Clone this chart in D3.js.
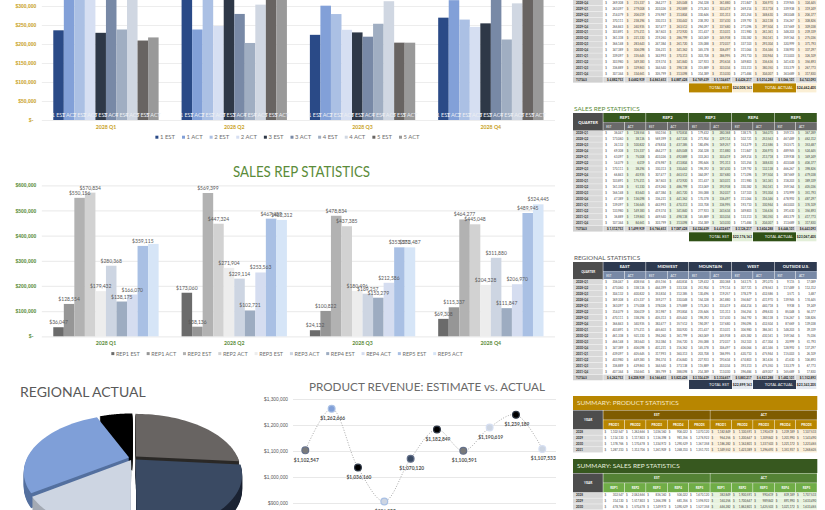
<!DOCTYPE html>
<html>
<head>
<meta charset="utf-8">
<title>Sales dashboard</title>
<script src="https://cdn.jsdelivr.net/npm/d3@7/dist/d3.min.js"></script>
<style>
  html, body { margin: 0; background: #fff; overflow: hidden; }
  svg { display: block; font-family: Lato, "Open Sans", sans-serif; }
</style>
</head>
<body>
<svg id="board" width="825" height="510"></svg>
<script>
// ---- Quarter labels and table rows ----
const quarters = ["2028 Q1", "2028 Q2", "2028 Q3", "2028 Q4"];
const years = ["2028", "2029", "2030", "2031"];
const rowLabels = years.flatMap(y => ["Q1", "Q2", "Q3", "Q4"].map(q => `${y}-${q}`));

const productSeries = ["1 EST", "1 ACT", "2 EST", "2 ACT", "3 EST", "3 ACT", "4 EST", "4 ACT", "5 EST", "5 ACT"];
const productColors = ["#2A4A87", "#82A0D8", "#ABC0E4", "#D6DFF2", "#2E3847", "#7889A6", "#A0AEC2", "#D0D7E2", "#686462", "#999999"];
const productRows = [
  [236047, 328554, 350156, 370834, 229432, 330368, 238175, 316070, 209115, 217289],
  [373060, 238136, 369399, 247324, 321904, 279114, 202721, 303563, 337489, 362312],
  [224132, 300822, 278834, 237385, 230496, 219257, 253279, 312586, 203571, 203487],
  [269308, 315337, 264277, 245048, 254328, 361880, 211847, 306970, 319945, 324445],
  [263097, 279008, 203026, 292889, 273263, 303419, 269214, 313718, 339938, 319249],
  [214079, 206019, 276987, 313804, 330646, 331313, 201254, 348630, 283048, 206377],
  [370111, 238294, 330313, 330442, 238392, 337430, 239792, 242138, 316267, 308826],
  [266843, 240935, 307477, 263512, 294097, 337680, 271096, 297504, 337669, 309038],
  [303891, 375211, 367603, 272920, 311437, 313031, 311980, 261361, 348203, 239339],
  [361338, 221330, 219260, 286799, 343069, 345938, 330382, 350161, 359164, 275036],
  [366148, 283643, 247384, 261720, 335088, 372037, 337103, 293304, 320999, 371793],
  [347389, 306098, 336231, 341362, 345378, 306497, 311064, 316346, 338992, 337297],
  [339097, 335645, 342993, 370313, 303708, 386995, 293710, 330944, 313003, 326109],
  [303980, 349383, 319374, 341840, 327923, 293634, 349803, 336636, 341630, 356893],
  [336889, 329863, 344540, 398138, 315889, 303034, 333313, 380350, 333379, 267773],
  [307344, 334661, 305799, 313098, 314389, 313030, 271484, 304007, 363689, 317830]
];

const repSeries = ["REP1 EST", "REP1 ACT", "REP2 EST", "REP2 ACT", "REP3 EST", "REP3 ACT", "REP4 EST", "REP4 ACT", "REP5 EST", "REP5 ACT"];
const repColors = ["#6B6B6B", "#969696", "#B2B2B2", "#D2D2D2", "#EDEDED", "#CDD5E2", "#9DACC1", "#D5DDF0", "#A9C0E4", "#D6E5F7"];
const repRows = [
  [36047, 128554, 550156, 570834, 179432, 280368, 138175, 166070, 359115, 367289],
  [173060, 38136, 569399, 447324, 271904, 229114, 102721, 253563, 467489, 462312],
  [24132, 100822, 478834, 437385, 180496, 169257, 153279, 212586, 353571, 353487],
  [69308, 115337, 464277, 445048, 204328, 311880, 111847, 206970, 489945, 524445],
  [63097, 75008, 403026, 492889, 333263, 303419, 269214, 213718, 339938, 349249],
  [14079, 6019, 476987, 413804, 390646, 191313, 101254, 348630, 403048, 406377],
  [170111, 38294, 330313, 330442, 198392, 187430, 139792, 132138, 466267, 398826],
  [66843, 40935, 307477, 463512, 344097, 307680, 171096, 197504, 387669, 479038],
  [103891, 175211, 367603, 472920, 311437, 343031, 311980, 161361, 318203, 389339],
  [161338, 51330, 419260, 486799, 313069, 393938, 330382, 350161, 359164, 405036],
  [166148, 83643, 447384, 461720, 355088, 352037, 137103, 193304, 370999, 351793],
  [47389, 136098, 336231, 441362, 170378, 336497, 311064, 316346, 478992, 487297],
  [139097, 136645, 442993, 470313, 333708, 336995, 193710, 330944, 463003, 376109],
  [133980, 149383, 419374, 341840, 277923, 243634, 349803, 136636, 391630, 356893],
  [36889, 139863, 449540, 498138, 145889, 303034, 133313, 180350, 483379, 417773],
  [107344, 84661, 303799, 313098, 314389, 143030, 171484, 204007, 313689, 317830]
];

const regionNames = ["EAST", "MIDWEST", "MOUNTAIN", "WEST", "OUTSIDE U.S."];
const regionRows = [
  [336047, 408554, 455156, 440834, 129432, 200368, 163175, 291070, 9115, 17089],
  [473060, 338136, 444399, 333324, 251904, 179114, 307721, 478563, 117489, 112312],
  [304132, 400822, 353834, 312385, 130496, 119257, 378279, 432586, 3571, 3487],
  [369308, 415337, 359277, 330048, 154328, 261880, 356847, 431970, 139945, 174445],
  [363097, 375008, 378026, 375889, 173263, 333419, 404214, 440718, 9938, 19249],
  [314079, 306019, 351987, 393804, 235646, 131313, 356254, 498630, 85048, 56377],
  [470111, 338294, 405313, 405442, 198392, 137430, 364792, 380138, 116267, 108826],
  [366843, 340935, 382477, 357512, 194097, 137680, 396096, 432504, 87669, 139038],
  [403891, 375211, 445603, 300920, 211437, 313031, 306980, 386361, 148203, 39339],
  [461338, 501330, 394260, 361799, 263069, 245938, 405382, 430161, 159164, 75036],
  [466148, 383643, 352384, 356720, 255088, 272037, 352103, 417304, 20999, 51793],
  [347389, 406098, 401231, 316362, 145378, 306497, 406064, 441346, 128992, 137297],
  [439097, 405645, 317993, 360313, 203708, 186995, 420710, 475944, 115003, 26109],
  [403980, 449383, 394374, 416840, 227923, 193634, 474803, 361636, 41630, 106893],
  [336889, 429863, 344540, 373138, 115889, 203034, 393313, 475350, 133379, 67773],
  [407344, 334661, 385799, 388098, 214389, 113030, 396484, 449007, 165689, 17830]
];

// ---- Line chart: estimate then actual revenue for each product ----
const revenueLabels = ["PROD1 EST", "PROD2 EST", "PROD3 EST", "PROD4 EST", "PROD5 EST", "PROD1 ACT", "PROD2 ACT", "PROD3 ACT", "PROD4 ACT", "PROD5 ACT"];
const revenueValues = [1102547, 1262666, 1036160, 906022, 1070120, 1182849, 1100591, 1190619, 1239189, 1107533];
const revenueFills = ["#7A7A7A", "#82A0D8", "#000000", "#CDD5E2", "#3A4A63", "#000000", "#7A7A7A", "#CDD5E2", "#000000", "#CDD5E2"];
const revenueRings = ["#64708A", "#A9C0E4", "#2E3847", "#A9C0E4", "#64708A", "#2E3847", "#64708A", "#D6DFF2", "#2E3847", "#D6DFF2"];

// ---- Pie chart: share of actual revenue by region, clockwise from twelve o'clock ----
const pieRegions = ["Mountain", "West", "Midwest", "East", "Outside U.S."];
const pieShares = [26.4, 23.6, 15.3, 28.2, 6.5];
const pieTops = ["#686462", "#3A4A63", "#CDD5E2", "#7F9FD8", "#000000"];
const pieWalls = ["#2B2927", "#1B2333", "#A4AAB4", "#54709F", "#000000"];

const svg = d3.select("#board");
const money = d3.format(",");
const axisMoney = v => v === 0 ? "$-" : "$" + money(v);

// Clustered columns with a left axis, quarter labels and a centred legend.
function columnChart(cfg) {
  const g = svg.append("g");
  const x0 = d3.scaleBand().domain(quarters).range(cfg.xRange);
  const x1 = d3.scaleBand().domain(d3.range(10)).range([0, x0.bandwidth()]).paddingInner(0).paddingOuter(1.09);
  const y = d3.scaleLinear().domain(cfg.yDomain).range(cfg.yRange);

  const axis = g.append("g").attr("transform", `translate(${cfg.xRange[0]},0)`)
    .call(d3.axisLeft(y).tickValues(cfg.ticks).tickFormat(axisMoney)
      .tickSize(-(cfg.xRange[1] - cfg.xRange[0])).tickPadding(5.5));
  axis.select(".domain").remove();
  axis.selectAll(".tick line").attr("stroke", "#EDEDED").attr("stroke-width", 1.2);
  axis.selectAll(".tick text").attr("fill", cfg.accent).attr("font-size", 5).attr("font-weight", 700)
    .attr("dx", d => d === 0 ? -3 : 0);

  const groups = g.selectAll(".quarter").data(cfg.rows).join("g")
    .attr("transform", (d, i) => `translate(${x0(quarters[i])},0)`);
  groups.selectAll("rect").data(d => d).join("rect")
    .attr("x", (d, i) => x1(i)).attr("width", x1.bandwidth())
    .attr("y", d => y(d)).attr("height", d => y(0) - y(d))
    .attr("fill", (d, i) => cfg.colors[i]);

  if (cfg.insideNames) {
    groups.selectAll(".name").data(d => d).join("text").attr("class", "name")
      .attr("x", (d, i) => x1(i) + x1.bandwidth() / 2).attr("y", y(0) - 3.4)
      .attr("text-anchor", "middle").attr("font-size", 5.4).attr("fill", "#EDEFF3")
      .text((d, i) => cfg.series[i]);
  }
  if (cfg.valueLabels) {
    // Value labels sit just above each column; the Q1 REP5 ACT column carries none.
    groups.selectAll(".value").data((d, q) => d.map((v, i) => ({ v, i, q })).filter(p => !(p.q === 0 && p.i === 9))).join("text").attr("class", "value")
      .attr("x", p => x1(p.i) + x1.bandwidth() / 2).attr("y", p => y(p.v) - 3)
      .attr("text-anchor", "middle").attr("font-size", 5).attr("fill", "#595959")
      .text(p => "$" + money(p.v));
  }

  g.selectAll(".qlabel").data(quarters).join("text").attr("class", "qlabel")
    .attr("x", d => x0(d) + x0.bandwidth() / 2).attr("y", y(0) + 8.6)
    .attr("text-anchor", "middle").attr("font-size", 5.2).attr("font-weight", 700).attr("fill", cfg.accent)
    .text(d => d);

  // Legend entries are laid out from their measured text widths.
  const legend = g.append("g");
  const items = legend.selectAll("g").data(cfg.series).join("g");
  items.append("rect").attr("y", -1.6).attr("width", 3).attr("height", 3).attr("fill", (d, i) => cfg.colors[i]);
  items.append("text").attr("x", 4.6).attr("dy", "0.35em").attr("font-size", cfg.legendSize).attr("fill", "#6E6E6E").text(d => d);
  let cursor = 0;
  items.each(function () {
    d3.select(this).attr("transform", `translate(${cursor},0)`);
    cursor += this.querySelector("text").getComputedTextLength() + 4.6 + cfg.legendGap;
  });
  const span = cursor - cfg.legendGap;
  legend.attr("transform", `translate(${cfg.legendCenter - span / 2},${cfg.legendY})`);
}

columnChart({
  rows: productRows.slice(0, 4), series: productSeries, colors: productColors, accent: "#C9A227",
  xRange: [41.8, 555], yDomain: [0, 350000], yRange: [120, -13],
  ticks: [0, 50000, 100000, 150000, 200000, 250000, 300000],
  insideNames: true, legendY: 137.3, legendCenter: 287.5, legendSize: 5.9, legendGap: 7
});
columnChart({
  rows: repRows.slice(0, 4), series: repSeries, colors: repColors, accent: "#5B8C3A",
  xRange: [41.8, 555], yDomain: [0, 600000], yRange: [336.3, 185.3],
  ticks: [0, 100000, 200000, 300000, 400000, 500000, 600000],
  valueLabels: true, legendY: 353.7, legendCenter: 287, legendSize: 5.5, legendGap: 6.8
});

svg.append("text").attr("x", 301.5).attr("y", 176.5).attr("text-anchor", "middle")
  .attr("font-size", 15).attr("fill", "#5B8C3A")
  .attr("textLength", 137).attr("lengthAdjust", "spacingAndGlyphs").text("SALES REP STATISTICS");
svg.append("text").attr("x", 20).attr("y", 397)
  .attr("font-size", 14).attr("fill", "#595959").text("REGIONAL ACTUAL");
svg.append("text").attr("x", 427).attr("y", 390.5).attr("text-anchor", "middle")
  .attr("font-size", 11.7).attr("fill", "#6A6A6A").text("PRODUCT REVENUE: ESTIMATE vs. ACTUAL");

// ---- Perspective pie ----
(function pieChart() {
  const cx = 133, cy = 458, R = 102, tilt = 54, k = 0.25, depth = 15, explode = 0.04;
  const project = (u, v) => {
    const s = 1 / (1 - k * v);
    return [cx + R * u * s, cy + tilt * v * s];
  };
  const arcs = d3.pie().sort(null).value(d => d)(pieShares);
  const line = d3.line();
  const g = svg.append("g");
  const slices = arcs.map((a, i) => {
    const mid = (a.startAngle + a.endAngle) / 2;
    const ox = Math.sin(mid) * explode, oy = -Math.cos(mid) * explode;
    const steps = d3.range(0, 41).map(j => a.startAngle + (a.endAngle - a.startAngle) * j / 40);
    const pts = [project(ox, oy)].concat(steps.map(t => project(Math.sin(t) + ox, -Math.cos(t) + oy)));
    return { i, mid, pts, order: -Math.cos(mid) };
  }).sort((p, q) => p.order - q.order);

  slices.forEach(s => {
    d3.range(depth, 0, -1).forEach(d => {
      g.append("path").attr("d", line(s.pts) + "Z").attr("transform", `translate(0,${d})`).attr("fill", pieWalls[s.i]);
    });
    g.append("path").attr("d", line(s.pts) + "Z").attr("fill", pieTops[s.i]);
  });
})();

// ---- Line chart ----
(function lineChart() {
  const x = d3.scalePoint().domain(revenueLabels).range([305.3, 542.3]);
  const y = d3.scaleLinear().domain([900000, 1300000]).range([503, 399]);
  const g = svg.append("g");
  const axis = g.append("g").attr("transform", "translate(293,0)")
    .call(d3.axisLeft(y).tickValues([900000, 1000000, 1100000, 1200000, 1300000]).tickFormat(axisMoney).tickSize(-263).tickPadding(5));
  axis.select(".domain").remove();
  axis.selectAll(".tick line").attr("stroke", "#E8E8E8").attr("stroke-width", 1);
  axis.selectAll(".tick text").attr("fill", "#595959").attr("font-size", 4.8);

  const path = d3.line().x((d, i) => x(revenueLabels[i])).y(d => y(d)).curve(d3.curveCatmullRom.alpha(0.5));
  g.append("path").attr("d", path(revenueValues)).attr("fill", "none")
    .attr("stroke", "#A0A0A0").attr("stroke-width", 0.9).attr("stroke-dasharray", "1 1.6");
  g.selectAll("circle").data(revenueValues).join("circle")
    .attr("cx", (d, i) => x(revenueLabels[i])).attr("cy", d => y(d)).attr("r", 3.4)
    .attr("fill", (d, i) => revenueFills[i]).attr("stroke", (d, i) => revenueRings[i]).attr("stroke-width", 1.2);
  g.selectAll(".lab").data(revenueValues).join("text").attr("class", "lab")
    .attr("x", (d, i) => x(revenueLabels[i]) + 1).attr("y", d => y(d) + 11.2)
    .attr("text-anchor", "middle").attr("font-size", 4.9).attr("font-weight", 700).attr("fill", "#4F4F4F")
    .text(d => "$" + money(d));
})();

// ---- Spreadsheet blocks ----
const tableLeft = 573, labelRight = 603.3, tableRight = 817.3;
const colW = (tableRight - labelRight) / 10;

function cellRow(g, label, values, yc, h, tint, labelFill, weight) {
  g.append("rect").attr("x", tableLeft).attr("y", yc - h / 2).attr("width", labelRight - tableLeft - 0.5).attr("height", h - 0.4).attr("fill", labelFill);
  g.append("text").attr("x", tableLeft + 3).attr("y", yc + 1).attr("font-size", 3).attr("font-weight", 700).attr("fill", "#333").text(label);
  values.forEach((v, i) => {
    const cx = labelRight + i * colW;
    const fill = weight ? "#D9D9D9" : (i % 2 ? tint : "#FFFFFF");
    g.append("rect").attr("x", cx).attr("y", yc - h / 2).attr("width", colW - 0.4).attr("height", h - 0.4).attr("fill", fill);
    if (!weight) g.append("text").attr("x", cx + 2).attr("y", yc + 1).attr("font-size", 2.9).attr("fill", "#444").text("$");
    g.append("text").attr("x", cx + colW - 1.6).attr("y", yc + 1).attr("text-anchor", "end")
      .attr("font-size", weight ? 3 : 2.9).attr("font-weight", weight ? 700 : 400).attr("fill", weight ? "#222" : "#444")
      .text((weight ? "$ " : "") + money(v));
  });
}

function totalsBand(g, rows, yTop, bandFill, cellFill) {
  const columns = d3.transpose(rows);
  const est = d3.sum(columns.filter((c, i) => i % 2 === 0), c => d3.sum(c));
  const act = d3.sum(columns.filter((c, i) => i % 2 === 1), c => d3.sum(c));
  [[689, "TOTAL EST", est], [753, "TOTAL ACTUAL", act]].forEach(([x, name, v]) => {
    g.append("rect").attr("x", x).attr("y", yTop).attr("width", 43).attr("height", 9).attr("fill", bandFill);
    g.append("rect").attr("x", x + 43.4).attr("y", yTop).attr("width", 20).attr("height", 9).attr("fill", cellFill);
    g.append("text").attr("x", x + 40).attr("y", yTop + 5.7).attr("text-anchor", "end").attr("font-size", 4).attr("fill", "#fff").text(name);
    g.append("text").attr("x", x + 53.4).attr("y", yTop + 5.6).attr("text-anchor", "middle").attr("font-size", 3.4).attr("font-weight", 700).attr("fill", "#222").text("$" + money(v));
  });
}

function quarterTable(cfg) {
  const g = svg.append("g");
  const pitch = cfg.pitch;
  if (cfg.title) {
    g.append("text").attr("x", tableLeft + 1).attr("y", cfg.titleY).attr("font-size", 6.4).attr("fill", cfg.titleFill).text(cfg.title);
  }
  if (cfg.headers) {
    const top = cfg.headTop;
    g.append("rect").attr("x", tableLeft).attr("y", top).attr("width", labelRight - tableLeft - 0.5).attr("height", 18).attr("fill", "#4D4D4D");
    g.append("text").attr("x", (tableLeft + labelRight) / 2).attr("y", top + 10.5).attr("text-anchor", "middle")
      .attr("font-size", cfg.cornerSize).attr("font-weight", 700).attr("fill", "#fff").text("QUARTER");
    cfg.headers.forEach((name, i) => {
      const hx = labelRight + i * colW * 2;
      g.append("rect").attr("x", hx).attr("y", top).attr("width", colW * 2 - 0.5).attr("height", 9).attr("fill", cfg.headFill);
      g.append("text").attr("x", hx + colW).attr("y", top + 6).attr("text-anchor", "middle").attr("font-size", 4.2).attr("font-weight", 700).attr("fill", "#fff").text(name);
      ["EST", "ACT"].forEach((s, j) => {
        g.append("rect").attr("x", hx + j * colW).attr("y", top + 9.2).attr("width", colW - 0.5).attr("height", 8.8).attr("fill", cfg.subFill);
        g.append("text").attr("x", hx + j * colW + 3).attr("y", top + 14.6).attr("font-size", 3).attr("fill", "#fff").text(s);
      });
    });
  }
  cfg.rows.forEach((row, r) => {
    cellRow(g, rowLabels[r], row, cfg.firstRow + r * pitch, pitch, cfg.tint, "#D9D9D9", false);
  });
  const totals = d3.transpose(cfg.rows).map(c => d3.sum(c));
  cellRow(g, "TOTALS", totals, cfg.firstRow + cfg.rows.length * pitch, pitch, cfg.tint, "#D0D0D0", true);
  totalsBand(g, cfg.rows, cfg.bandTop, cfg.bandFill, cfg.cellFill);
}

quarterTable({
  rows: productRows, firstRow: -15.15, pitch: 5.95, tint: "#FCF0DC",
  bandTop: 83.4, bandFill: "#B88600", cellFill: "#FBEFD5"
});
quarterTable({
  rows: repRows, firstRow: 133.3, pitch: 5.98, tint: "#E8F3DF", title: "SALES REP STATISTICS", titleY: 110.5, titleFill: "#5B8C3A",
  headers: ["REP1", "REP2", "REP3", "REP4", "REP5"], headTop: 113, headFill: "#37581F", subFill: "#6A6A6A", cornerSize: 4.2,
  bandTop: 232.3, bandFill: "#2F5016", cellFill: "#E3EFD9"
});
quarterTable({
  rows: regionRows, firstRow: 282, pitch: 5.98, tint: "#FFFFFF", title: "REGIONAL STATISTICS", titleY: 259.8, titleFill: "#595959",
  headers: regionNames, headTop: 262, headFill: "#2E3A50", subFill: "#7889A6", cornerSize: 3,
  bandTop: 380, bandFill: "#2E3A50", cellFill: "#E4E8EF"
});

function summaryTable(cfg) {
  const g = svg.append("g");
  const top = cfg.top;
  g.append("rect").attr("x", tableLeft).attr("y", top).attr("width", tableRight - tableLeft).attr("height", 14).attr("fill", cfg.bannerFill);
  g.append("text").attr("x", tableLeft + 4).attr("y", top + 9.4).attr("font-size", 6.5).attr("fill", cfg.bannerText).text(cfg.title);
  const head = top + 14.4;
  g.append("rect").attr("x", tableLeft).attr("y", head).attr("width", labelRight - tableLeft - 0.5).attr("height", 19).attr("fill", "#4D4D4D");
  g.append("text").attr("x", (tableLeft + labelRight) / 2).attr("y", head + 10.5).attr("text-anchor", "middle").attr("font-size", 3.2).attr("font-weight", 700).attr("fill", "#fff").text("YEAR");
  ["EST", "ACT"].forEach((s, j) => {
    g.append("rect").attr("x", labelRight + j * colW * 5).attr("y", head).attr("width", colW * 5 - 0.4).attr("height", 9.3).attr("fill", cfg.groupFill);
    g.append("text").attr("x", labelRight + j * colW * 5 + colW * 2.5).attr("y", head + 5.8).attr("text-anchor", "middle").attr("font-size", 3.2).attr("font-weight", 700).attr("fill", "#fff").text(s);
  });
  d3.range(10).forEach(i => {
    const hx = labelRight + i * colW;
    g.append("rect").attr("x", hx).attr("y", head + 9.7).attr("width", colW - 0.5).attr("height", 9.3).attr("fill", cfg.subFill);
    g.append("text").attr("x", hx + colW / 2).attr("y", head + 15.4).attr("text-anchor", "middle").attr("font-size", 3.1).attr("font-weight", 700).attr("fill", "#fff").text(cfg.names[i % 5]);
  });
  // Each year's figures are the sum of its four quarters, estimates first and actuals after.
  years.forEach((year, y) => {
    const quarterRows = cfg.rows.slice(y * 4, y * 4 + 4);
    const sums = d3.transpose(quarterRows).map(c => d3.sum(c));
    const ordered = sums.filter((v, i) => i % 2 === 0).concat(sums.filter((v, i) => i % 2 === 1));
    const yc = head + 22 + y * 5.85;
    g.append("rect").attr("x", tableLeft).attr("y", yc - 2.9).attr("width", labelRight - tableLeft - 0.5).attr("height", 5.4).attr("fill", "#D9D9D9");
    g.append("text").attr("x", tableLeft + 3).attr("y", yc + 1).attr("font-size", 3).attr("font-weight", 700).attr("fill", "#333").text(year);
    ordered.forEach((v, i) => {
      const hx = labelRight + i * colW;
      g.append("rect").attr("x", hx).attr("y", yc - 2.9).attr("width", colW - 0.4).attr("height", 5.4).attr("fill", i < 5 ? "#FFFFFF" : cfg.tint);
      g.append("text").attr("x", hx + 1.2).attr("y", yc + 1).attr("font-size", 2.9).attr("fill", "#444").text("$");
      g.append("text").attr("x", hx + colW - 1.2).attr("y", yc + 1).attr("text-anchor", "end").attr("font-size", 2.9).attr("fill", "#444").text(money(v));
    });
  });
}

summaryTable({
  rows: productRows, top: 396, title: "SUMMARY: PRODUCT STATISTICS", names: ["PROD1", "PROD2", "PROD3", "PROD4", "PROD5"],
  bannerFill: "#B88600", bannerText: "#F6E9C8", groupFill: "#7F5C00", subFill: "#B88600", tint: "#FBEFD9"
});
summaryTable({
  rows: repRows, top: 459, title: "SUMMARY: SALES REP STATISTICS", names: ["REP1", "REP2", "REP3", "REP4", "REP5"],
  bannerFill: "#37581F", bannerText: "#E6EFDD", groupFill: "#548235", subFill: "#70AD47", tint: "#E8F3DF"
});
</script>
</body>
</html>
